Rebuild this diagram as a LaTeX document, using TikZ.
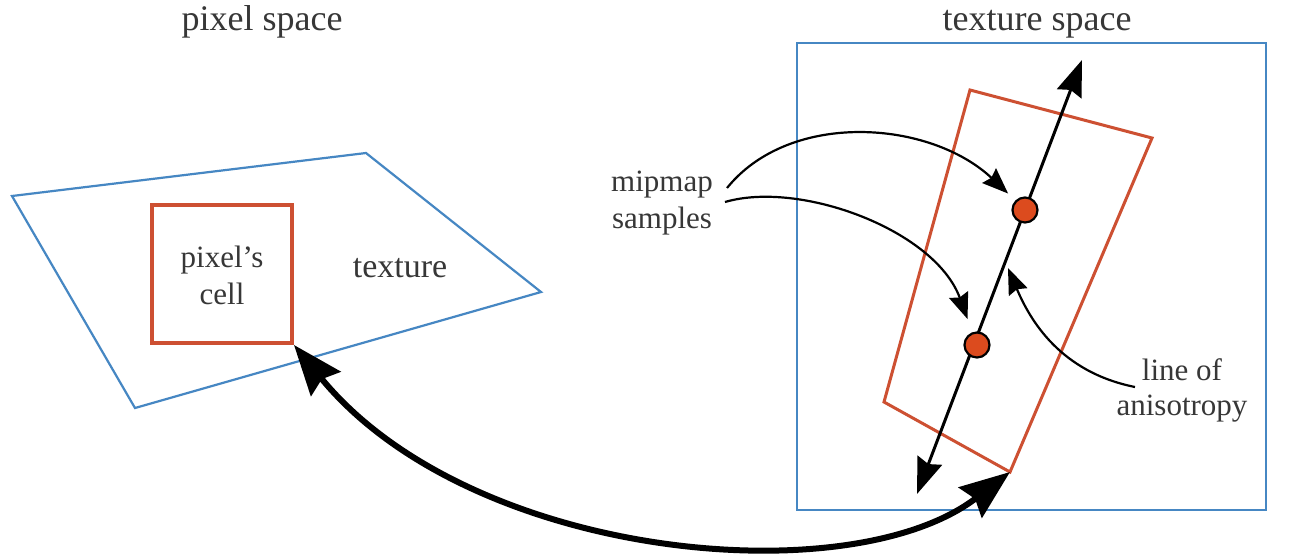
\documentclass[tikz,border=0pt]{standalone}
\usepackage{fontspec}
\setmainfont{Liberation Serif}
\usetikzlibrary{arrows.meta}
\definecolor{bl}{RGB}{70,135,195}
\definecolor{rd}{RGB}{205,80,50}
\definecolor{dotc}{RGB}{220,75,30}
\definecolor{txt}{RGB}{55,55,55}
\begin{document}
\begin{tikzpicture}[x=1pt,y=-1pt,
  bluebox/.style={draw=bl,line width=2.2pt},
  redbox/.style={draw=rd,line width=3pt},
  lbl/.style={text=txt,font=\fontsize{31}{37}\selectfont,align=center,inner sep=0pt},
  titlelbl/.style={lbl,font=\fontsize{36}{40}\selectfont},
  sample/.style={circle,fill=dotc,draw=black,line width=2.2pt,minimum size=25pt,inner sep=0pt},
  thinarrow/.style={line width=2.2pt,-{Stealth[length=26pt,width=20pt,inset=3pt]}},
  axisarrow/.style={line width=3pt,{Stealth[length=36pt,width=26pt,inset=4pt]}-{Stealth[length=36pt,width=26pt,inset=4pt]}},
  bigarrow/.style={line width=6pt,{Stealth[length=50pt,width=38pt,inset=6pt]}-{Stealth[length=50pt,width=38pt,inset=6pt]}}
]
\useasboundingbox (0,0) rectangle (1299,555);
\fill[white] (0,0) rectangle (1299,555);

% titles
\node[titlelbl,anchor=base] (ps) at (262,30) {pixel space};
\node[titlelbl,anchor=base] (ts) at (1037,30) {texture space};

% pixel space
\coordinate (q1) at (12,196);
\coordinate (q2) at (366,153);
\coordinate (q3) at (541,292);
\coordinate (q4) at (135,408);
\draw[bluebox] (q1) -- (q2) -- (q3) -- (q4) -- cycle;
\node[redbox,line width=4pt,minimum width=140pt,minimum height=138pt,inner sep=0pt] (cell) at (222,274) {};
\node[lbl] (celltxt) at (222,275) {pixel's\\cell};
\node[lbl,font=\fontsize{34}{38}\selectfont] (tex) at (400,268) {texture};

% texture space
\node[bluebox,minimum width=469pt,minimum height=467pt,inner sep=0pt] (tsbox) at (1031.5,276.5) {};
\coordinate (r1) at (970,90);
\coordinate (r2) at (1152,138);
\coordinate (r3) at (1010,472);
\coordinate (r4) at (884,402);
\draw[redbox] (r1) -- (r2) -- (r3) -- (r4) -- cycle;

\coordinate (atop) at (1082,60);
\coordinate (abot) at (917,494);
\draw[axisarrow] (abot) -- (atop);
\node[sample] (s1) at (1025,210) {};
\node[sample] (s2) at (977,345) {};

% labels
\node[lbl] (mm) at (662,203) {mipmap\\samples};
\coordinate (m1) at (727,188);
\coordinate (m2) at (725,202);
\draw[thinarrow,shorten >=10pt] (m1) .. controls (790,110) and (930,120) .. (s1.135);
\draw[thinarrow,shorten >=14pt] (m2) .. controls (800,180) and (935,230) .. (s2.110);

\node[lbl,font=\fontsize{31}{35}\selectfont] (loa) at (1182,390) {line of\\anisotropy};
\coordinate (lstart) at (1135,387);
\coordinate (ltip) at (1008,268);
\draw[thinarrow] (lstart) .. controls (1060,372) and (1030,320) .. (ltip);

% big double arrow
\draw[bigarrow] (cell.south east) .. controls (470,560) and (850,595) .. (r3);
\end{tikzpicture}
\end{document}
